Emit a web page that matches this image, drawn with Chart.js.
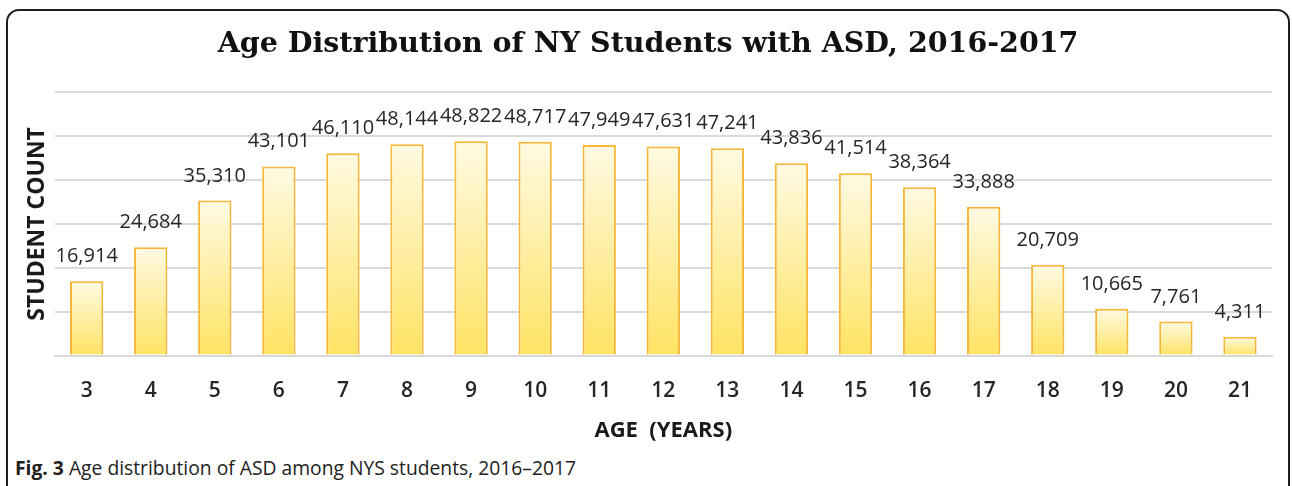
<!DOCTYPE html>
<html>
<head>
<meta charset="utf-8">
<script src="https://cdn.jsdelivr.net/npm/chart.js@4"></script>
<style>
  html, body { margin: 0; padding: 0; background: #fff; }
  #wrap { position: relative; width: 1292px; height: 486px; overflow: hidden; }
  #frame {
    position: absolute; left: 6px; top: 9px; width: 1280px; height: 490px;
    border: 2px solid #1e1e1e; border-radius: 13px;
  }
  #box { position: absolute; left: 0; top: 0; width: 1292px; height: 444px; }
  #caption {
    position: absolute; left: 15px; top: 454px;
    font-family: "Open Sans", sans-serif; font-size: 19.3px; color: #222;
  }
  #caption b { font-weight: 700; }
</style>
</head>
<body>
<div id="wrap">
  <div id="frame"></div>
  <div id="box"><canvas id="ageChart"></canvas></div>
  <div id="caption"><b>Fig. 3</b> Age distribution of ASD among NYS students, 2016–2017</div>
</div>
<script>
// chart values
var ages = ["3","4","5","6","7","8","9","10","11","12","13","14","15","16","17","18","19","20","21"];
var counts = [16914, 24684, 35310, 43101, 46110, 48144, 48822, 48717, 47949, 47631, 47241, 43836, 41514, 38364, 33888, 20709, 10665, 7761, 4311];

var chartTitle = "Age Distribution of NY Students with ASD, 2016-2017";
var xTitle = "AGE  (YEARS)";
var yTitle = "STUDENT COUNT";

// bar gradient, light at the top of each bar to yellow at the bottom
function barFill(ctx) {
  var chart = ctx.chart;
  if (!chart.chartArea || ctx.parsed === undefined) return "#fff2b0";
  var yScale = chart.scales.y;
  var top = yScale.getPixelForValue(ctx.parsed.y);
  var bottom = yScale.getPixelForValue(0);
  var g = chart.ctx.createLinearGradient(0, top, 0, bottom);
  g.addColorStop(0, "#fffae3");
  g.addColorStop(1, "#ffe363");
  return g;
}

// value labels above bars
var valueLabels = {
  id: "valueLabels",
  afterDatasetsDraw: function(chart) {
    var c = chart.ctx;
    var meta = chart.getDatasetMeta(0);
    c.save();
    c.font = "20px 'Open Sans'";
    c.fillStyle = "#262626";
    c.textAlign = "center";
    c.textBaseline = "alphabetic";
    meta.data.forEach(function(bar, i) {
      c.fillText(counts[i].toLocaleString("en-US"), bar.x, bar.y - 19);
    });
    c.restore();
  }
};

var canvas = document.getElementById("ageChart");
var ageChart = new Chart(canvas, {
  type: "bar",
  data: {
    labels: ages,
    datasets: [{
      data: counts,
      backgroundColor: barFill,
      borderColor: "#f6b638",
      borderWidth: 2,
      borderSkipped: "bottom",
      categoryPercentage: 1,
      barPercentage: 0.52
    }]
  },
  plugins: [valueLabels],
  options: {
    responsive: true,
    maintainAspectRatio: false,
    animation: false,
    layout: { padding: { left: 24, right: 20, top: 27, bottom: 0 } },
    plugins: {
      legend: { display: false },
      tooltip: { enabled: false },
      title: {
        display: true,
        text: chartTitle,
        color: "#111",
        font: { family: "'DejaVu Serif'", size: 28.5, weight: "bold" },
        padding: { top: 0, bottom: 31 }
      }
    },
    scales: {
      x: {
        grid: { display: false },
        border: { color: "#d9d9d9", width: 2 },
        ticks: {
          color: "#262626",
          padding: 14.4,
          font: { family: "'Open Sans'", size: 21, weight: "600" }
        },
        title: {
          display: true,
          text: xTitle,
          color: "#1a1a1a",
          padding: { top: 0, bottom: 0 },
          font: { family: "'Open Sans'", size: 22, weight: "bold" }
        }
      },
      y: {
        min: 0,
        max: 60000,
        ticks: { stepSize: 10000, display: false },
        grid: { color: "#d9d9d9", lineWidth: 2, drawTicks: false },
        border: { display: false },
        title: {
          display: true,
          text: yTitle,
          color: "#1a1a1a",
          padding: { top: 0, bottom: 3 },
          font: { family: "'Open Sans'", size: 23, weight: "bold" }
        }
      }
    }
  }
});
</script>
</body>
</html>
